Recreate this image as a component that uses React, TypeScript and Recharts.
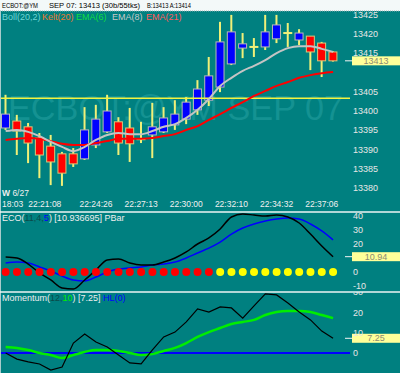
import React from "react";
import { ComposedChart, Bar, Line, XAxis, YAxis, ReferenceLine, Scatter } from "recharts";

// 30 bars, ECBOT @YM Sep 07
const opens = [13395.6, 13397.4, 13395.9, 13393.0, 13390.9, 13388.9, 13388.9, 13387.6, 13391.2, 13394.6, 13397.2, 13395.6, 13392.7, 13393.8, 13394.6, 13396.4, 13397.9, 13400.3, 13402.8, 13406.2, 13412.2, 13416.3, 13416.6, 13416.6, 13418.7, 13420.2, 13418.4, 13419.4, 13417.6, 13415.3];
const highs = [13404.2, 13399.0, 13396.9, 13394.3, 13393.8, 13389.4, 13390.4, 13401.0, 13401.6, 13404.2, 13398.4, 13400.8, 13397.2, 13402.1, 13401.0, 13402.8, 13403.6, 13408.0, 13414.0, 13423.1, 13424.9, 13420.2, 13418.9, 13424.9, 13424.9, 13422.8, 13421.2, 13419.4, 13417.9, 13415.5];
const lows = [13395.1, 13388.6, 13386.5, 13382.6, 13380.8, 13380.6, 13385.5, 13387.3, 13390.4, 13394.3, 13388.6, 13386.8, 13391.7, 13387.8, 13394.3, 13395.1, 13396.6, 13399.0, 13401.3, 13404.9, 13411.9, 13413.7, 13414.0, 13415.8, 13417.6, 13416.6, 13417.1, 13410.6, 13408.8, 13412.8];
const closes = [13399.2, 13394.8, 13391.7, 13388.6, 13386.8, 13383.9, 13386.3, 13395.1, 13397.9, 13400.0, 13391.7, 13391.5, 13392.7, 13395.9, 13398.2, 13399.2, 13402.3, 13405.7, 13409.1, 13417.9, 13420.5, 13417.4, 13416.6, 13420.5, 13422.3, 13420.2, 13420.2, 13415.3, 13413.0, 13413.0];
const ema8 = [13394.8, 13395.1, 13394.6, 13393.5, 13392.0, 13390.7, 13389.6, 13390.7, 13392.5, 13393.8, 13394.3, 13394.0, 13394.0, 13394.8, 13395.9, 13396.6, 13398.2, 13400.3, 13403.1, 13406.5, 13408.6, 13410.4, 13411.7, 13413.2, 13415.0, 13416.3, 13416.8, 13416.8, 13416.1, 13415.3];
const ema21 = [13392.5, 13392.8, 13393.0, 13392.8, 13392.2, 13391.5, 13391.2, 13391.2, 13391.7, 13392.2, 13392.8, 13392.8, 13392.8, 13393.0, 13393.5, 13394.0, 13395.1, 13396.1, 13397.7, 13399.2, 13400.8, 13402.3, 13403.9, 13405.2, 13406.5, 13407.5, 13408.6, 13409.3, 13409.8, 13410.1];
const pivotLevel = 13403.3;

const timeTicks = [0, 4, 8, 12, 16, 20, 24, 28];
const timeLabels = ["18:03", "22:21:08", "22:24:26", "22:27:13", "22:30:00", "22:32:10", "22:34:32", "22:37:06"];
const priceTicks = [13380, 13385, 13390, 13395, 13400, 13405, 13415, 13420, 13425];

const ecoFast = [10.7, 10.0, 5.7, -0.7, -5.7, -11.4, -12.1, -5.7, 1.4, 8.6, 9.3, 6.4, 5.0, 5.0, 7.1, 10.0, 14.3, 20.0, 24.3, 30.7, 39.3, 41.4, 40.7, 40.0, 40.7, 39.3, 35.0, 27.1, 18.6, 10.94];
const ecoSlow = [6.4, 7.1, 6.4, 3.6, 0.7, -2.9, -5.7, -6.4, -3.6, 0.0, 2.1, 2.9, 3.6, 5.0, 5.7, 7.1, 10.0, 13.6, 17.1, 21.4, 27.1, 31.4, 34.3, 36.4, 37.9, 38.6, 37.9, 34.3, 29.3, 22.9];
const pbar = ["r", "r", "r", "r", "r", "r", "r", "r", "r", "r", "r", "r", "r", "r", "r", "r", "r", "r", "r", "y", "y", "y", "y", "y", "y", "y", "y", "y", "y", "y"];
const ecoTicks = [-10, 0, 20, 30, 40];

const momentum = [0.0, -3.0, -4.4, -5.4, -8.4, -6.9, 4.9, 9.4, 5.4, 3.0, -1.0, -4.9, -5.4, 1.5, 7.9, 10.3, 15.3, 21.7, 20.2, 22.7, 22.2, 17.2, 23.2, 29.1, 28.6, 24.6, 20.2, 16.3, 10.8, 7.25];
const momentumAvg = [3.0, 2.5, 1.5, 0.0, -1.0, -2.5, -1.0, 0.5, 1.5, 1.5, 1.0, 0.0, -1.0, -0.5, 1.0, 2.5, 4.9, 7.9, 10.3, 12.3, 14.3, 15.3, 16.3, 18.7, 20.2, 20.7, 20.7, 20.2, 18.7, 17.2];
const momTicks = [0, 10, 20, 30];

const priceData = opens.map((o, i) => ({
  i, o, h: highs[i], l: lows[i], c: closes[i],
  range: [lows[i], highs[i]], ema8: ema8[i], ema21: ema21[i],
}));
const ecoData = ecoFast.map((v, i) => ({ i, fast: v, slow: ecoSlow[i], pb: pbar[i] }));
const momData = momentum.map((v, i) => ({ i, mom: v, avg: momentumAvg[i] }));

const TEAL = "#008080";
const FONT = "'Liberation Sans', Arial, sans-serif";
const xDomain = [-0.5, 30.5];
const axisTick = { fill: "#e6e6e6", fontSize: 9, fontFamily: FONT };

const Candle = (props: any) => {
  const { x, y, width, height, payload } = props;
  const { o, h, l, c } = payload;
  const cx = x + width / 2;
  const top = Math.min(y, y + height);
  const span = Math.abs(height);
  const k = h - l > 0 ? span / (h - l) : 0;
  const yO = top + (h - o) * k;
  const yC = top + (h - c) * k;
  const wick = <line x1={cx} x2={cx} y1={top} y2={top + span} stroke="#f0f078" strokeWidth={2} />;
  if (o === c) {
    return (
      <g>
        {wick}
        <line x1={cx - 4.5} x2={cx + 4.5} y1={yO} y2={yO} stroke="#f0f078" strokeWidth={2} />
      </g>
    );
  }
  const up = c > o;
  return (
    <g>
      {wick}
      <rect x={cx - 4} y={Math.min(yO, yC)} width={8} height={Math.abs(yO - yC)}
        fill={up ? "#0000ff" : "#ff0000"} stroke={up ? "#b8b8b8" : "#d8c878"} strokeWidth={1} />
    </g>
  );
};

const ValueTag = (props: any) => {
  const { viewBox, text } = props;
  const right = viewBox.x + viewBox.width;
  const y = viewBox.y;
  return (
    <g>
      <line x1={right - 5} x2={right + 2} y1={y} y2={y} stroke="#f4f4f4" strokeWidth={1} />
      <rect x={right + 2} y={y - 4.5} width={48} height={9} fill="#ffff99" />
      <text x={right + 26} y={y + 3.2} textAnchor="middle" fontSize={9} fontFamily={FONT} fill="#8c8c74">{text}</text>
    </g>
  );
};

// time label hung on a vertical reference line at the bar index
const TimeLabel = (props: any) => {
  const { viewBox, k } = props;
  const x = viewBox.x;
  const bottom = viewBox.y + viewBox.height;
  const label = timeLabels[k];
  if (k === 0) {
    return (
      <g fontFamily={FONT} fontSize={8.5} fill="#f0f0f0">
        <text x={2} y={bottom - 14}><tspan fontWeight="bold">W</tspan> 6/27</text>
        <text x={2} y={bottom - 3}>{label}</text>
      </g>
    );
  }
  const shift = k === 1 ? -6 : 0;
  return (
    <text x={x + shift} y={bottom - 3} textAnchor="middle" fontFamily={FONT} fontSize={8.5} fill="#f0f0f0">{label}</text>
  );
};

const PbarDot = (props: any) => {
  const { cx, cy, payload } = props;
  return <circle cx={cx} cy={cy} r={4} fill={payload.pb === "r" ? "#ff0000" : "#ffff00"} />;
};

export default function App() {
  const lastClose = closes[closes.length - 1];
  const lastEco = ecoFast[ecoFast.length - 1];
  const lastMom = momentum[momentum.length - 1];
  return (
    <div style={{ position: "absolute", left: 0, top: 0, width: 400, height: 373, background: TEAL, overflow: "hidden", fontFamily: FONT }}>
      {/* watermark */}
      <svg width={400} height={373} style={{ position: "absolute", left: 0, top: 0 }}>
        <text x={8} y={120} fontSize={35} fontFamily={FONT} fill="#149292" textLength={335} lengthAdjust="spacingAndGlyphs">ECBOT:@YM SEP 07</text>
      </svg>

      <div style={{ position: "absolute", left: 0, top: 11 }}>
        <ComposedChart width={400} height={199} data={priceData} margin={{ top: 0, right: 0, bottom: 0, left: 0 }}>
          <XAxis dataKey="i" type="number" domain={xDomain} allowDataOverflow hide />
          <YAxis orientation="right" width={50} domain={[13374.35, 13425.91]} allowDataOverflow ticks={priceTicks}
            axisLine={false} tickLine={false} tickSize={0} tickMargin={3} tick={axisTick} interval={0} />
          <ReferenceLine y={pivotLevel} stroke="#f4f440" strokeWidth={1.5} />
          {timeTicks.map((t, k) => (
            <ReferenceLine key={t} x={t} stroke="none" label={<TimeLabel k={k} />} />
          ))}
          <Bar dataKey="range" barSize={9} shape={<Candle />} isAnimationActive={false} />
          <Line dataKey="ema21" type="monotone" stroke="#ff0000" strokeWidth={2} dot={false} isAnimationActive={false} />
          <Line dataKey="ema8" type="monotone" stroke="#c4c4c4" strokeWidth={2} dot={false} isAnimationActive={false} />
          <ReferenceLine y={lastClose} stroke="none" label={<ValueTag text={lastClose.toFixed(0)} />} />
        </ComposedChart>
      </div>

      <div style={{ position: "absolute", left: 0, top: 212 }}>
        <ComposedChart width={400} height={79} data={ecoData} margin={{ top: 0, right: 0, bottom: 0, left: 0 }}>
          <XAxis dataKey="i" type="number" domain={xDomain} allowDataOverflow hide />
          <YAxis orientation="right" width={50} domain={[-13.57, 42.86]} allowDataOverflow ticks={ecoTicks} interval={0}
            axisLine={false} tickLine={false} tickSize={0} tickMargin={3} tick={axisTick} />
          <Scatter dataKey={() => 0} shape={<PbarDot />} isAnimationActive={false} />
          <Line dataKey="slow" type="monotone" stroke="#0000ff" strokeWidth={1.5} dot={false} isAnimationActive={false} />
          <Line dataKey="fast" type="monotone" stroke="#000000" strokeWidth={1.5} dot={false} isAnimationActive={false} />
          <ReferenceLine y={lastEco} stroke="none" label={<ValueTag text={lastEco.toFixed(2)} />} />
        </ComposedChart>
      </div>

      <div style={{ position: "absolute", left: 0, top: 292 }}>
        <ComposedChart width={400} height={81} data={momData} margin={{ top: 0, right: 0, bottom: 0, left: 0 }}>
          <XAxis dataKey="i" type="number" domain={xDomain} allowDataOverflow hide />
          <YAxis orientation="right" width={50} domain={[-9.85, 30.05]} allowDataOverflow ticks={momTicks} interval={0}
            axisLine={false} tickLine={false} tickSize={0} tickMargin={3} tick={axisTick} />
          <ReferenceLine y={0} stroke="#0000ff" strokeWidth={2} />
          <Line dataKey="avg" type="monotone" stroke="#00ee00" strokeWidth={2.5} dot={false} isAnimationActive={false} />
          <Line dataKey="mom" type="linear" stroke="#000000" strokeWidth={1.2} dot={false} isAnimationActive={false} />
          <ReferenceLine y={lastMom} stroke="none" label={<ValueTag text={lastMom.toFixed(2)} />} />
        </ComposedChart>
      </div>

      {/* headers, legends, separators */}
      <svg width={400} height={373} style={{ position: "absolute", left: 0, top: 0, pointerEvents: "none" }} fontFamily={FONT}>
        <rect x={0} y={0} width={400} height={11} fill="#f3f9f9" />
        <line x1={0} x2={400} y1={11} y2={11} stroke="#9fb4b4" strokeDasharray="1 1" />
        <g fontSize={6.5} fill="#000">
          <text x={2} y={8} textLength={36} lengthAdjust="spacingAndGlyphs">ECBOT:@YM</text>
          <text x={49} y={8} textLength={91} lengthAdjust="spacingAndGlyphs">SEP 07: 13413 (30b/55tks)</text>
          <text x={147} y={8} textLength={44} lengthAdjust="spacingAndGlyphs">B:13413 A:13414</text>
        </g>
        <g fontSize={9}>
          <text x={2} y={20} fill="#6fd6d6">Boll(20,2)</text>
          <text x={42} y={20} fill="#e87a30">Kelt(20)</text>
          <text x={76} y={20} fill="#10dd40">EMA(6)</text>
          <text x={112} y={20} fill="#c8c8c8">EMA(8)</text>
          <text x={146} y={20} fill="#ff5a5a">EMA(21)</text>
        </g>
        <line x1={0.5} x2={0.5} y1={11} y2={373} stroke="#a8cccc" />
        <line x1={0} x2={400} y1={212} y2={212} stroke="#eef4f4" strokeWidth={1.5} />
        <line x1={0} x2={400} y1={292} y2={292} stroke="#eef4f4" strokeWidth={1.5} />
        <text x={2} y={221} fontSize={9} fill="#eeeeee">
          ECO(<tspan fill="#0b4a4a">11,4,</tspan><tspan fill="#0000ff">5</tspan>)  [10.936695]   PBar
        </text>
        <text x={2} y={301} fontSize={9} fill="#eeeeee">
          Momentum(<tspan fill="#0b4a4a">12,</tspan><tspan fill="#00ee00">10</tspan>)  [7.25]   <tspan fill="#0000ff">HL(0)</tspan>
        </text>
      </svg>
    </div>
  );
}
